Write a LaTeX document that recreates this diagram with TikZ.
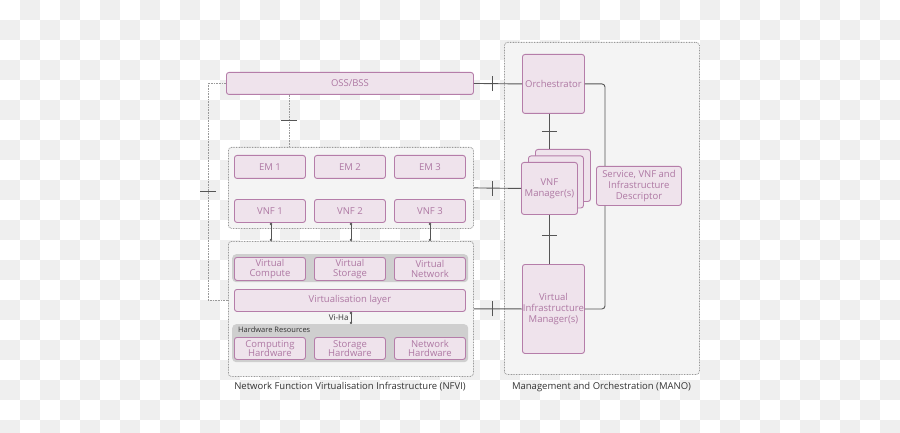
\documentclass[tikz,border=0pt]{standalone}
\usepackage{fontspec}
\setmainfont{Open Sans}
\usetikzlibrary{arrows.meta,calc}
\definecolor{boxfill}{HTML}{EFE3EC}
\definecolor{boxline}{HTML}{B57DA9}
\definecolor{boxtext}{HTML}{AE78A3}
\definecolor{bandc}{HTML}{CFCFCF}
\definecolor{regionc}{HTML}{F4F4F4}
\definecolor{dotc}{HTML}{999999}
\definecolor{linec}{HTML}{555555}
\definecolor{checker}{HTML}{EFEFEF}
\definecolor{labelc}{HTML}{333333}
\begin{document}
\begin{tikzpicture}[x=1pt,y=-1pt,
  box/.style={draw=boxline, fill=boxfill, line width=0.9pt, rounded corners=2.5pt,
    text=boxtext, font=\fontsize{9.5}{9.5}\selectfont, align=center, inner sep=0pt, anchor=north west},
  bigbox/.style={box, font=\fontsize{9.5}{11}\selectfont},
  region/.style={draw=dotc, fill=regionc, line width=0.8pt, dash pattern=on 0.8pt off 0.8pt,
    rounded corners=3pt, inner sep=0pt, anchor=north west},
  band/.style={fill=bandc, rounded corners=4pt, inner sep=0pt, anchor=north west},
  conn/.style={draw=linec, line width=0.9pt},
  dotconn/.style={draw=dotc, line width=0.8pt, dash pattern=on 0.8pt off 0.8pt},
  tickline/.style={draw=linec, line width=0.9pt},
  dotends/.style={conn, {Circle[length=2.2pt]}-{Circle[length=2.2pt]}},
  caption/.style={text=labelc, font=\fontsize{9.5}{11}\selectfont, inner sep=0pt}
]
\useasboundingbox (0,0) rectangle (900,433);
\clip (0,0) rectangle (900,433);
% checkerboard background
\foreach \i in {0,...,44}{
  \foreach \j in {0,...,21}{
    \pgfmathtruncatemacro\odd{mod(\i+\j,2)}
    \ifnum\odd=1 \fill[checker] (20*\i,20*\j) rectangle ++(20,20); \fi
  }
}
% regions
\node[region, minimum width=195pt, minimum height=332pt] (mano) at (504,42) {};
\node[region, minimum width=245pt, minimum height=81pt] (vnfr) at (228,147) {};
\node[region, minimum width=245pt, minimum height=135pt] (nfvi) at (228,241) {};
% bands
\node[band, minimum width=236pt, minimum height=28pt] (vband) at (232,254) {};
\node[band, minimum width=236pt, minimum height=38pt] (hwband) at (232,324) {};
\node[anchor=west, inner sep=0pt, text=labelc, font=\fontsize{7.5}{8}\selectfont] (hwlabel) at (238,330) {Hardware Resources};
% MANO boxes
\node[bigbox, minimum width=55pt, minimum height=52pt] (vnfm3) at (535,149) {};
\node[bigbox, minimum width=55pt, minimum height=52pt] (vnfm2) at (528,155.5) {};
\node[bigbox, minimum width=56pt, minimum height=52pt] (vnfm) at (521,162) {VNF\\Manager(s)};
\node[bigbox, minimum width=62pt, minimum height=59pt] (orch) at (522,54) {Orchestrator};
\node[bigbox, minimum width=85pt, minimum height=39pt] (desc) at (596,166) {Service, VNF and\\Infrastructure\\Descriptor};
\node[bigbox, minimum width=62pt, minimum height=89pt] (vim) at (522,264) {Virtual\\Infrastructure\\Manager(s)};
% OSS
\node[box, minimum width=247pt, minimum height=22pt] (oss) at (226,72) {OSS/BSS};
% EM and VNF
\node[box, minimum width=71pt, minimum height=23pt] (em1) at (234,155) {EM 1};
\node[box, minimum width=71pt, minimum height=23pt] (em2) at (314,155) {EM 2};
\node[box, minimum width=71pt, minimum height=23pt] (em3) at (394,155) {EM 3};
\node[box, minimum width=71pt, minimum height=23pt] (vnf1) at (234,199) {VNF 1};
\node[box, minimum width=71pt, minimum height=23pt] (vnf2) at (314,199) {VNF 2};
\node[box, minimum width=71pt, minimum height=23pt] (vnf3) at (394,199) {VNF 3};
% virtual resources
\node[box, minimum width=71pt, minimum height=23pt] (vc) at (234,257) {Virtual\\Compute};
\node[box, minimum width=71pt, minimum height=23pt] (vs) at (314,257) {Virtual\\Storage};
\node[box, minimum width=71pt, minimum height=23pt] (vn) at (394,257) {Virtual\\Network};
\node[box, minimum width=231pt, minimum height=22pt] (vlayer) at (234,289) {Virtualisation layer};
% hardware
\node[box, minimum width=71pt, minimum height=22pt] (hc) at (234,337) {Computing\\Hardware};
\node[box, minimum width=71pt, minimum height=22pt] (hs) at (314,337) {Storage\\Hardware};
\node[box, minimum width=71pt, minimum height=22pt] (hn) at (394,337) {Network\\Hardware};
% captions
\node[caption] (nfvicap) at (350,387) {Network Function Virtualisation Infrastructure (NFVI)};
\node[caption] (manocap) at (601.5,387) {Management and Orchestration (MANO)};
% helper coordinates
\coordinate (xl) at (208,0);
\coordinate (xo) at (289,0);
\coordinate (xd) at (605,0);
\coordinate (xh) at (351,0);
% solid connectors with ticks
\draw[conn] (oss.east) -- coordinate[pos=0.39] (t1) (orch.west);
\draw[tickline] ([yshift=-7.5pt]t1) -- ([yshift=7.5pt]t1);
\draw[conn] (vnfr.east) -- coordinate[pos=0.39] (t2) (vnfm.west);
\draw[tickline] ([yshift=-7.5pt]t2) -- ([yshift=7.5pt]t2);
\draw[conn] (nfvi.east) -- coordinate[pos=0.39] (t3) (vim.west);
\draw[tickline] ([yshift=-7.5pt]t3) -- ([yshift=7.5pt]t3);
\draw[conn] (orch.south -| vnfm.north) -- coordinate[pos=0.5] (t4) (vnfm3.north -| vnfm.north);
\draw[tickline] ([xshift=-7.5pt]t4) -- ([xshift=7.5pt]t4);
\draw[conn] (vnfm.south) -- coordinate[pos=0.42] (t5) (vim.north -| vnfm.south);
\draw[tickline] ([xshift=-7.5pt]t5) -- ([xshift=7.5pt]t5);
\draw[conn, rounded corners=3pt] (orch.east) -| (desc.north -| xd);
\draw[conn, rounded corners=3pt] (desc.south -| xd) |- (vim.east);
% VNF to NFVI
\draw[dotends] (vnf1.south -| 271,0) -- (nfvi.north -| 271,0);
\draw[dotends] (vnf2.south -| 351,0) -- (nfvi.north -| 351,0);
\draw[dotends] (vnf3.south -| 430,0) -- (nfvi.north -| 430,0);
% Vi-Ha
\draw[dotends] (vlayer.south -| xh) -- node[left, text=labelc, font=\fontsize{8}{9}\selectfont, inner sep=2pt] (viha) {Vi-Ha} (hwband.north -| xh);
% dotted connectors
\draw[dotconn] (oss.west) -- (oss.west -| xl) |- coordinate[pos=0.25] (t6) (nfvi.west |- vlayer);
\draw[tickline] ([xshift=-8pt]t6) -- ([xshift=8pt]t6);
\draw[dotconn] (oss.south -| xo) -- coordinate[pos=0.5] (t7) (vnfr.north -| xo);
\draw[tickline] ([xshift=-8pt]t7) -- ([xshift=8pt]t7);
\end{tikzpicture}
\end{document}
